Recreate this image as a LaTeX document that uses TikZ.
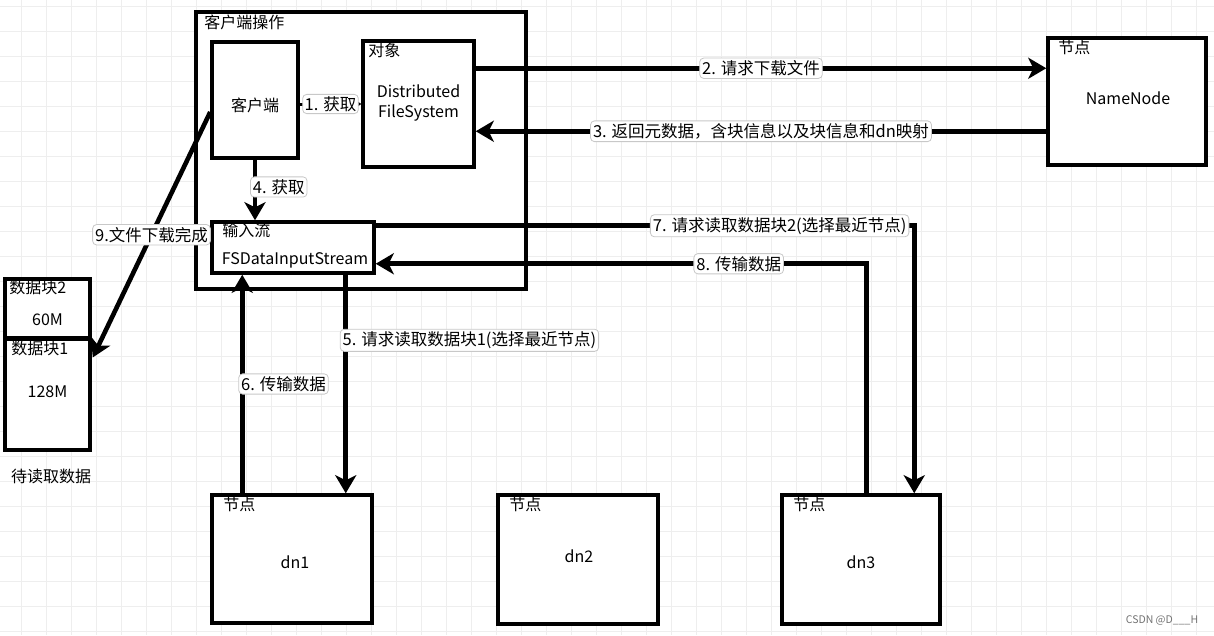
\documentclass[tikz,border=0pt]{standalone}
\usepackage{fontspec}
\setmainfont{Noto Sans CJK SC}
\usetikzlibrary{arrows.meta,calc}
\definecolor{gridc}{RGB}{238,238,238}
\definecolor{lblborder}{RGB}{200,200,200}
\newcommand\dgboxfont{\fontsize{16}{20}\selectfont}
\newcommand\dglblfont{\fontsize{16.5}{20}\selectfont}
\begin{document}
\begin{tikzpicture}[x=1pt,y=-1pt,
  box/.style={draw, line width=3.5pt, fill=white, inner sep=0pt},
  conn/.style={line width=4.6pt, -{Stealth[length=18pt,width=21pt,inset=5pt]}},
  smallconn/.style={line width=3pt, -{Stealth[length=6pt,width=8pt]}},
  lbl/.style={draw=lblborder, line width=0.8pt, fill=white, rounded corners=4pt, inner sep=2.5pt, font=\dglblfont},
  ttl/.style={anchor=north west, inner sep=0pt, font=\dgboxfont},
  txt/.style={inner sep=0pt, font=\dgboxfont, align=center},
]
\useasboundingbox (0,0) rectangle (1214,635);
\fill[white] (0,0) rectangle (1214,635);
\foreach \i in {0,...,48} \draw[gridc, line width=0.8pt] (21.7+25*\i,0) -- (21.7+25*\i,635);
\foreach \j in {0,...,25} \draw[gridc, line width=0.8pt] (0,6.7+25*\j) -- (1214,6.7+25*\j);

% boxes
\node[box, minimum width=330pt, minimum height=277pt] (outer) at (361,150.5) {};
\node[box, minimum width=86pt, minimum height=116pt] (client) at (255,100) {};
\node[box, minimum width=111pt, minimum height=126pt] (obj) at (418.5,104) {};
\node[box, minimum width=158pt, minimum height=127pt] (nn) at (1127,101.5) {};
\node[box, minimum width=162pt, minimum height=51pt] (ins) at (293,247.5) {};
\node[box, minimum width=85pt, minimum height=59pt] (blk2) at (47.5,308.5) {};
\node[box, minimum width=85pt, minimum height=111pt] (blk1) at (47.5,394.5) {};
\node[box, minimum width=160pt, minimum height=128pt] (dn1) at (292,559) {};
\node[box, minimum width=160pt, minimum height=129pt] (dn2) at (578,559.5) {};
\node[box, minimum width=158pt, minimum height=129pt] (dn3) at (861,559.5) {};

% titles
\node[ttl] (outerT) at ($(outer.north west)+(10,4)$) {客户端操作};
\node[ttl] (objT) at ($(obj.north west)+(7,4)$) {对象};
\node[ttl] (nnT) at ($(nn.north west)+(12,4)$) {节点};
\node[ttl] (insT) at ($(ins.north west)+(12,3)$) {输入流};
\node[ttl] (blk2T) at ($(blk2.north west)+(6,3)$) {数据块2};
\node[ttl] (blk1T) at ($(blk1.north west)+(8,4)$) {数据块1};
\node[ttl] (dn1T) at ($(dn1.north west)+(13,4)$) {节点};
\node[ttl] (dn2T) at ($(dn2.north west)+(13,4)$) {节点};
\node[ttl] (dn3T) at ($(dn3.north west)+(13,4)$) {节点};

% main texts
\node[txt] (clientL) at ($(client.center)+(0,5)$) {客户端};
\node[txt] (objL) at ($(obj.center)+(0,-1)$) {Distributed\\FileSystem};
\node[txt] (nnL) at ($(nn.center)+(1,-3.5)$) {NameNode};
\node[txt] (insL) at ($(ins.center)+(2,12.5)$) {FSDataInputStream};
\node[txt] (blk2L) at ($(blk2.center)+(0,11.5)$) {60M};
\node[txt] (blk1L) at ($(blk1.center)+(0,-2.5)$) {128M};
\node[txt] (dn1L) at ($(dn1.center)+(3,3)$) {dn1};
\node[txt] (dn2L) at ($(dn2.center)+(1,-3.5)$) {dn2};
\node[txt] (dn3L) at ($(dn3.center)+(0,2.5)$) {dn3};
\node[txt] (pending) at (51,476) {待读取数据};

% connectors
\draw[smallconn] (client.east |- obj.west) -- node[lbl, inner sep=2pt]{1. 获取} (obj.west);

\coordinate (a2) at ($(obj.north east)+(0,29)$);
\draw[conn] (a2) -- node[lbl]{2. 请求下载文件} (a2 -| nn.west);

\coordinate (a3) at ($(nn.north west)+(0,95)$);
\draw[conn] (a3) -- node[lbl]{3. 返回元数据，含块信息以及块信息和dn映射} (a3 -| obj.east);

\draw[conn] (client.south) -- node[lbl, anchor=west, xshift=-5pt, pos=.45]{4. 获取} (client.south |- ins.north);

\coordinate (a5) at ($(ins.south east)+(-30,0)$);
\draw[conn] (a5) -- node[lbl, anchor=west, xshift=-6pt, pos=.3]{5. 请求读取数据块1(选择最近节点)} (a5 |- dn1.north);

\coordinate (a6) at ($(dn1.north west)+(32,0)$);
\draw[conn] (a6) -- node[lbl, anchor=west, xshift=-4pt, pos=.5]{6. 传输数据} (a6 |- ins.south);

\coordinate (a7) at ($(ins.north east)+(0,5.5)$);
\coordinate (c7) at ($(dn3.north west)+(134,0)$);
\draw[conn] (a7) -- node[lbl, pos=.75]{7. 请求读取数据块2(选择最近节点)} (a7 -| c7) -- (c7);

\coordinate (a8) at ($(dn3.north west)+(86,0)$);
\coordinate (c8) at ($(ins.south east)+(0,-11)$);
\draw[conn] (a8) -- (a8 |- c8) -- node[lbl, pos=.26]{8. 传输数据} (c8);

\coordinate (a9) at ($(client.west)+(0,12)$);
\coordinate (b9) at ($(blk1.east)+(1,-37)$);
\draw[conn] (a9) -- node[lbl]{9.文件下载完成} (b9);

\node[font=\fontsize{10.5}{12}\selectfont, text=black!55, inner sep=0pt] (wm) at (1162,620) {CSDN @D\_\_\_H};
\end{tikzpicture}
\end{document}
